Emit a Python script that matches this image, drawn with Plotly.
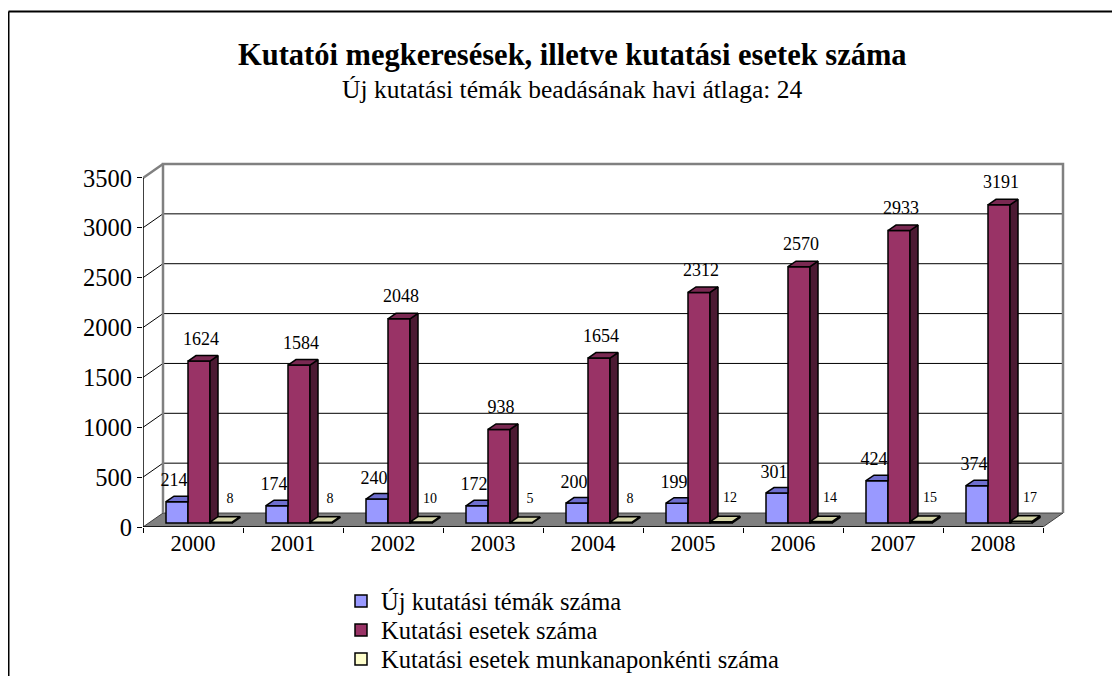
import plotly.graph_objects as go

years = ["2000", "2001", "2002", "2003", "2004", "2005", "2006", "2007", "2008"]
uj_temak = [214, 174, 240, 172, 200, 199, 301, 424, 374]
kutatasi_esetek = [1624, 1584, 2048, 938, 1654, 2312, 2570, 2933, 3191]
munkanaponkenti = [8, 8, 10, 5, 8, 12, 14, 15, 17]
series_names = ["Új kutatási témák száma", "Kutatási esetek száma",
                "Kutatási esetek munkanaponkénti száma"]
y_ticks = [0, 500, 1000, 1500, 2000, 2500, 3000, 3500]

FONT = "Liberation Serif"
# page pixel geometry (figure is offset 8px by body margin)
FIG_W, FIG_H = 1104, 668
L, W, T, H = 143, 930, 158, 369          # plot area in page pixels
XR = [0, 9.3]
YR = [0, 3700]
def px(x):  # page px -> paper x
    return (x - L) / W
def py(y):
    return (T + H - y) / H

# 3-D look parameters (axis units)
WX, WY = 0.2, 140        # wall depth offset
BX, BY = 0.06, 40        # bar plane offset
DX, DY = 0.08, 55        # bar depth
BW = 0.22                # bar width

n = len(years)
centers = [i + 0.5 + BX for i in range(n)]
x_blue = [c - BW for c in centers]
x_mar = centers
x_yel = [c + BW for c in centers]

fig = go.Figure()

bar_line = dict(color="black", width=1.5)
fig.add_trace(go.Bar(x=x_blue, y=uj_temak, base=BY, width=BW, name=series_names[0],
                     legend="legend",
                     marker=dict(color="#9999FF", line=bar_line)))
fig.add_trace(go.Bar(x=x_mar, y=kutatasi_esetek, base=BY, width=BW, name=series_names[1],
                     legend="legend2",
                     marker=dict(color="#993366", line=bar_line)))
fig.add_trace(go.Bar(x=x_yel, y=munkanaponkenti, base=BY, width=BW, name=series_names[2],
                     legend="legend3",
                     marker=dict(color="#FFFFCC", line=bar_line)))

def poly_trace(polys, color):
    xs, ys = [], []
    for p in polys:
        for (a, b) in p:
            xs.append(a); ys.append(b)
        xs.append(p[0][0]); ys.append(p[0][1])
        xs.append(None); ys.append(None)
    return go.Scatter(x=xs, y=ys, mode="lines", fill="toself", fillcolor=color,
                      line=dict(color="black", width=1.5), showlegend=False,
                      hoverinfo="skip")

def top_face(x0, v, clip=False):
    xl, xr = x0 - BW / 2, x0 + BW / 2
    t = BY + v
    if clip:
        return [(xl, t), (xr, t), (xr, t + DY), (xl + DX, t + DY)]
    return [(xl, t), (xr, t), (xr + DX, t + DY), (xl + DX, t + DY)]

def side_face(x0, v):
    xr = x0 + BW / 2
    return [(xr, BY), (xr, BY + v), (xr + DX, BY + v + DY), (xr + DX, BY + DY)]

fig.add_trace(poly_trace([top_face(x, v, clip=True) for x, v in zip(x_blue, uj_temak)], "#6F6FCF"))
fig.add_trace(poly_trace([side_face(x, v) for x, v in zip(x_mar, kutatasi_esetek)], "#4C1A33"))
fig.add_trace(poly_trace([top_face(x, v) for x, v in zip(x_mar, kutatasi_esetek)], "#7A2952"))
fig.add_trace(poly_trace([side_face(x, v) for x, v in zip(x_yel, munkanaponkenti)], "#A0A080"))
fig.add_trace(poly_trace([top_face(x, v) for x, v in zip(x_yel, munkanaponkenti)], "#D6D6A8"))

# value labels
fig.add_trace(go.Scatter(x=[x - 0.03 for x in x_blue], y=[BY + v + 200 for v in uj_temak],
                         text=[str(v) for v in uj_temak], mode="text",
                         textfont=dict(family=FONT, size=18, color="black"),
                         showlegend=False, hoverinfo="skip", cliponaxis=False))
fig.add_trace(go.Scatter(x=[x + 0.02 for x in x_mar], y=[BY + v + 210 for v in kutatasi_esetek],
                         text=[str(v) for v in kutatasi_esetek], mode="text",
                         textfont=dict(family=FONT, size=18, color="black"),
                         showlegend=False, hoverinfo="skip", cliponaxis=False))
fig.add_trace(go.Scatter(x=[x + 0.09 for x in x_yel], y=[BY + v + 230 for v in munkanaponkenti],
                         text=[str(v) for v in munkanaponkenti], mode="text",
                         textfont=dict(family=FONT, size=14, color="black"),
                         showlegend=False, hoverinfo="skip", cliponaxis=False))

shapes = []
GRAY = "#808080"
top = y_ticks[-1]
# floor
shapes.append(dict(type="path", xref="x", yref="y", layer="below",
                   path=f"M0,0 L{n},0 L{n + WX},{WY} L{WX},{WY} Z",
                   fillcolor=GRAY, line=dict(color="#404040", width=1)))
# back wall gridlines and left wall diagonals
for v in y_ticks[1:-1]:
    shapes.append(dict(type="line", xref="x", yref="y", layer="below",
                       x0=WX, x1=n + WX, y0=v + WY, y1=v + WY,
                       line=dict(color="black", width=1)))
    shapes.append(dict(type="line", xref="x", yref="y", layer="below",
                       x0=0, x1=WX, y0=v, y1=v + WY,
                       line=dict(color="black", width=1)))
# wall borders
shapes.append(dict(type="path", xref="x", yref="y", layer="below",
                   path=f"M{WX},{WY} L{WX},{top + WY} L{n + WX},{top + WY} L{n + WX},{WY}",
                   line=dict(color=GRAY, width=2.5)))
shapes.append(dict(type="line", xref="x", yref="y", layer="below",
                   x0=0, x1=WX, y0=top, y1=top + WY, line=dict(color=GRAY, width=2.5)))
# front axes
shapes.append(dict(type="line", xref="x", yref="y", x0=0, x1=n, y0=0, y1=0,
                   line=dict(color="black", width=1.5)))
shapes.append(dict(type="line", xref="x", yref="y", x0=0, x1=0, y0=0, y1=top,
                   line=dict(color="black", width=1.5)))
# outer frame (top and left)
shapes.append(dict(type="line", xref="paper", yref="paper",
                   x0=px(8.5), x1=px(1125), y0=py(11.5), y1=py(11.5),
                   line=dict(color="black", width=2)))
shapes.append(dict(type="line", xref="paper", yref="paper",
                   x0=px(8.5), x1=px(8.5), y0=py(11.5), y1=py(700),
                   line=dict(color="black", width=2)))

annotations = [
    dict(text="<b>Kutatói megkeresések, illetve kutatási esetek száma</b>",
         xref="paper", yref="paper", x=px(572), y=py(55), showarrow=False,
         xanchor="center", yanchor="middle", font=dict(family=FONT, size=30.5, color="black")),
    dict(text="Új kutatási témák beadásának havi átlaga: 24",
         xref="paper", yref="paper", x=px(572), y=py(89), showarrow=False,
         xanchor="center", yanchor="middle", font=dict(family=FONT, size=25.5, color="black")),
]

def legend_at(row_y):
    return dict(x=px(341), y=py(row_y), xanchor="left", yanchor="middle",
                font=dict(family=FONT, size=24.5, color="black"),
                bgcolor="rgba(0,0,0,0)", borderwidth=0, itemwidth=30)

fig.update_layout(
    width=FIG_W, height=FIG_H,
    margin=dict(l=L - 8, r=FIG_W - (L - 8) - W, t=T - 8, b=FIG_H - (T - 8) - H,
                pad=0, autoexpand=False),
    paper_bgcolor="white", plot_bgcolor="rgba(0,0,0,0)",
    barmode="overlay",
    showlegend=True,
    legend=legend_at(601), legend2=legend_at(630), legend3=legend_at(659),
    xaxis=dict(range=XR, tickvals=[i + 0.5 for i in range(n)], ticktext=years,
               ticks="", showgrid=False, zeroline=False, showline=False,
               tickfont=dict(family=FONT, size=22.5, color="black")),
    xaxis2=dict(range=XR, overlaying="x", anchor="y", side="bottom",
                tickvals=list(range(n + 1)), ticks="outside", ticklen=5,
                tickcolor="black", tickwidth=1, showticklabels=False,
                showgrid=False, zeroline=False, showline=False),
    yaxis=dict(range=YR, tickvals=y_ticks, ticks="outside", ticklen=5,
               tickcolor="black", tickwidth=1, showgrid=False, zeroline=False,
               showline=False, tickfont=dict(family=FONT, size=24.5, color="black")),
    shapes=shapes, annotations=annotations,
)
# dummy trace to activate xaxis2 ticks
fig.add_trace(go.Scatter(x=[0], y=[0], xaxis="x2", mode="markers",
                         marker=dict(opacity=0), showlegend=False, hoverinfo="skip"))

fig.write_html("out.html")
